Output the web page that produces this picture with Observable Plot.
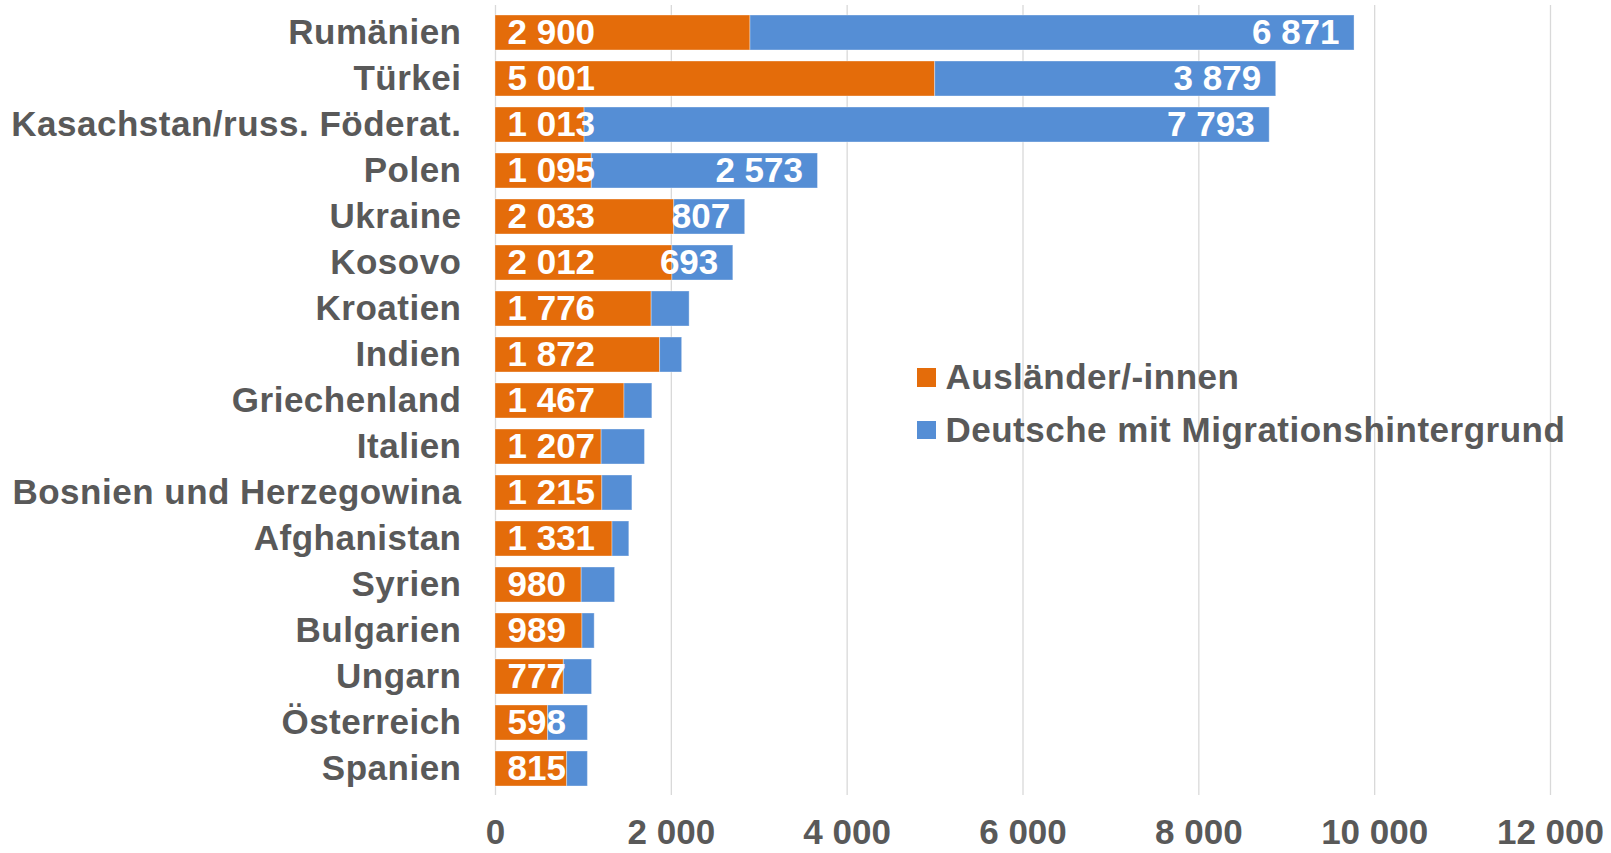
<!DOCTYPE html>
<html>
<head>
<meta charset="utf-8">
<script src="https://cdn.jsdelivr.net/npm/d3@7"></script>
<script src="https://cdn.jsdelivr.net/npm/@observablehq/plot@0.6"></script>
<style>
  html, body { margin: 0; padding: 0; background: #fff; }
  #wrap { position: relative; width: 1611px; height: 853px; overflow: hidden; }
  #wrap svg { display: block; }
  #wrap svg text { font-family: "Liberation Sans", Arial, sans-serif; font-weight: bold; }
  #wrap svg .ylab text, #wrap svg g.ylab text, #wrap svg text.ylab { letter-spacing: 0.5px; }
  #legend { position: absolute; left: 917px; top: 351px; font-family: "Liberation Sans", Arial, sans-serif; font-weight: bold; font-size: 35px; letter-spacing: 0.5px; color: #595959; }
  #legend .row { display: flex; align-items: center; height: 52.5px; line-height: 52.5px; white-space: nowrap; }
  #legend .sw { width: 18.5px; height: 18.5px; margin-right: 10px; flex: none; }
</style>
</head>
<body>
<div id="wrap"><div id="legend"></div></div>
<script>
const countries = ["Rumänien","Türkei","Kasachstan/russ. Föderat.","Polen","Ukraine","Kosovo","Kroatien","Indien","Griechenland","Italien","Bosnien und Herzegowina","Afghanistan","Syrien","Bulgarien","Ungarn","Österreich","Spanien"];
const auslaender = [2900,5001,1013,1095,2033,2012,1776,1872,1467,1207,1215,1331,980,989,777,598,815];
const deutscheMH = [6871,3879,7793,2573,807,693,432,251,317,493,342,191,380,139,321,453,236];
const blueLabeled = ["Rumänien","Türkei","Kasachstan/russ. Föderat.","Polen","Ukraine","Kosovo"];
const seriesNames = ["Ausländer/-innen","Deutsche mit Migrationshintergrund"];
const seriesColors = ["#E46C0A","#558ED5"];
const xTicks = [0,2000,4000,6000,8000,10000,12000];

const fmt = d3.formatLocale({decimal: ",", thousands: " ", grouping: [3], currency: ["", "€"]}).format(",d");

const rows = [];
countries.forEach((c, i) => {
  rows.push({country: c, series: seriesNames[0], value: auslaender[i]});
  rows.push({country: c, series: seriesNames[1], value: deutscheMH[i]});
});
const totals = countries.map((c, i) => ({country: c, total: auslaender[i] + deutscheMH[i], blue: deutscheMH[i]}))
  .filter(d => blueLabeled.includes(d.country));
const orange = countries.map((c, i) => ({country: c, value: auslaender[i]}));

const chart = Plot.plot({
  width: 1611,
  height: 853,
  marginLeft: 495,
  marginRight: 61,
  marginTop: 5,
  marginBottom: 58,
  style: {fontFamily: "'Liberation Sans', Arial, sans-serif", fontSize: "35px", fontWeight: "bold", color: "#595959", background: "white", overflow: "visible"},
  x: {domain: [0, 12000], ticks: xTicks, tickFormat: fmt},
  y: {domain: countries, paddingInner: 0.24, paddingOuter: 0.12},
  color: {domain: seriesNames, range: seriesColors},
  marks: [
    Plot.gridX(xTicks, {stroke: "#d9d9d9", strokeOpacity: 1, strokeWidth: 1.3}),
    Plot.barX(rows, Plot.stackX({x: "value", y: "country", fill: "series", stroke: "#ffffff", strokeOpacity: 0.35, strokeWidth: 1})),
    Plot.axisX({ticks: xTicks, tickFormat: fmt, tickSize: 0, tickPadding: 24, label: null, fill: "#595959", fontSize: 35, fontWeight: "bold"}),
    Plot.axisY({tickSize: 0, tickPadding: 34, label: null, fill: "#595959", fontSize: 35, fontWeight: "bold", className: "ylab"}),
    Plot.text(orange, {x: 0, y: "country", text: d => fmt(d.value), textAnchor: "start", dx: 12, fill: "white", fontSize: 35, fontWeight: "bold"}),
    Plot.text(totals, {x: "total", y: "country", text: d => fmt(d.blue), textAnchor: "end", dx: -15, fill: "white", fontSize: 35, fontWeight: "bold"})
  ]
});
document.getElementById("wrap").prepend(chart);

const legend = document.getElementById("legend");
seriesNames.forEach((n, i) => {
  const r = document.createElement("div");
  r.className = "row";
  const s = document.createElement("span");
  s.className = "sw";
  s.style.background = seriesColors[i];
  const t = document.createElement("span");
  t.textContent = n;
  r.append(s, t);
  legend.append(r);
});
</script>
</body>
</html>
